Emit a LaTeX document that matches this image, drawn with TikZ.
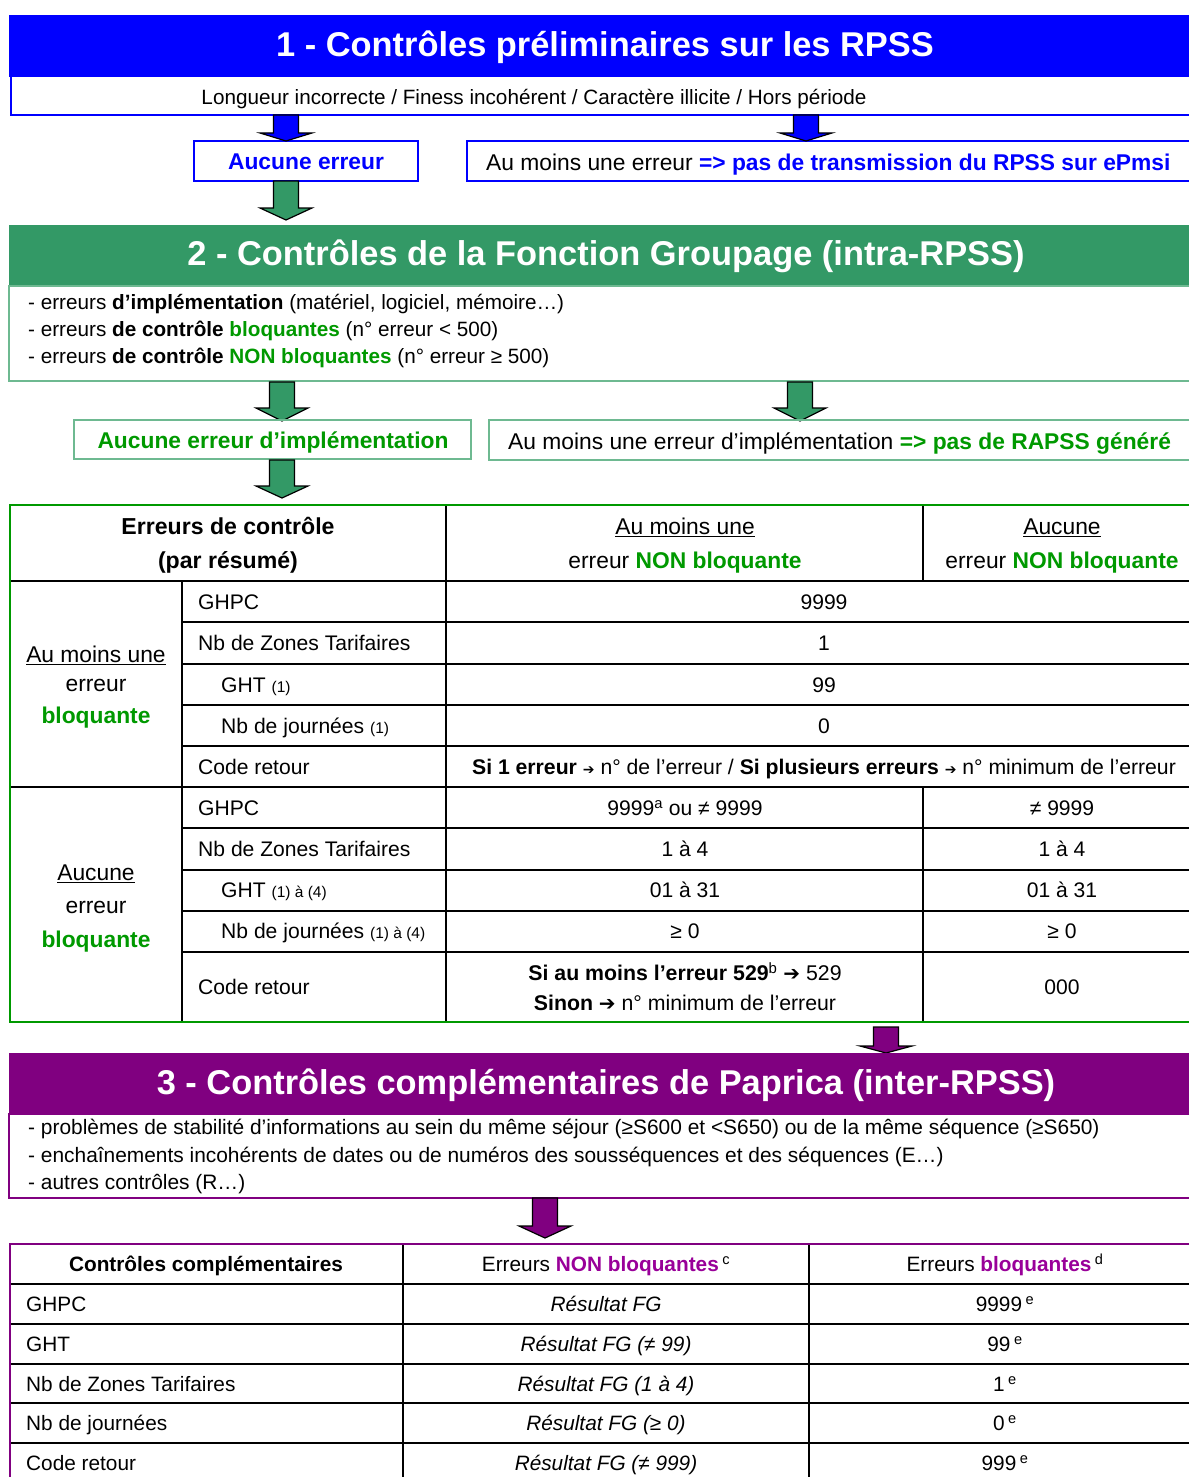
\documentclass[tikz,border=0pt]{standalone}
\usepackage{fontspec}
\setmainfont{Liberation Sans}
\newfontfamily\dejavu{DejaVu Sans}
\definecolor{bl}{RGB}{0,0,255}
\definecolor{hg}{RGB}{51,153,102}
\definecolor{lg}{RGB}{110,185,145}
\definecolor{tg}{RGB}{0,153,0}
\definecolor{pu}{RGB}{128,0,128}
\definecolor{tp}{RGB}{153,0,153}
\newcommand\fs[1]{\fontsize{#1}{24}\selectfont}
\newcommand\arr[1]{{\dejavu\fs{#1}\char"2794}}
\newcommand\blockarr[5]{% cx, top, headstart, tip, colour
  \draw[arrowline, fill=#5] ({#1-12.5},#2) -- ({#1+12.5},#2) -- ({#1+12.5},#3) -- ({#1+26},#3) -- (#1,#4) -- ({#1-26},#3) -- ({#1-12.5},#3) -- cycle;}
\tikzset{
  ttl/.style={text=white, font=\fs{34.4}\bfseries, anchor=mid, inner sep=0, yshift=-9pt},
  txt/.style={font=\fs{20.7}, anchor=mid west, inner sep=0, yshift=-5pt},
  ctxt/.style={font=\fs{20.7}, anchor=mid, inner sep=0, yshift=-5pt},
  bigtxt/.style={font=\fs{22.8}, anchor=mid, inner sep=0, yshift=-5pt},
  bigw/.style={font=\fs{22.8}, anchor=mid west, inner sep=0, yshift=-5pt},
  rowtxt/.style={font=\fs{21.1}, anchor=mid west, inner sep=0, yshift=-5pt},
  rowc/.style={font=\fs{21.1}, anchor=mid, inner sep=0, yshift=-5pt},
  t2/.style={font=\fs{20.8}, anchor=mid west, inner sep=0, yshift=-5pt},
  t2c/.style={font=\fs{20.8}, anchor=mid, inner sep=0, yshift=-5pt},
  tline/.style={line width=2.6pt, black},
  t2line/.style={line width=2pt, black},
  arrowline/.style={draw=black, line width=1.2pt, line join=miter},
}
\begin{document}
\begin{tikzpicture}[x=1pt,y=-1pt]
\useasboundingbox (0,0) rectangle (1189,1477);
\fill[white] (0,0) rectangle (1189,1477);

% ---------- Section 1 ----------
\fill[bl] (9,15) rectangle (1189,77);
\node[ttl] (t1) at (605,45) {1 - Contrôles préliminaires sur les RPSS};
\draw[bl, line width=1.5pt] (11,77) -- (11,115) -- (1189,115);
\node[ctxt] (s1) at (534,97) {Longueur incorrecte / Finess incohérent / Caractère illicite / Hors période};
\draw[bl, line width=1.5pt] (194,141) rectangle (418,181);
\node[bigtxt, text=bl, font=\fs{22.8}\bfseries] (ok1) at (306,162) {Aucune erreur};
\draw[bl, line width=1.5pt] (1189,141) -- (467,141) -- (467,181) -- (1189,181);
\node[bigw] (ko1) at (486,163) {Au moins une erreur \textcolor{bl}{\bfseries => pas de transmission du RPSS sur ePmsi}};
\blockarr{286}{115}{133}{141}{bl}
\blockarr{806}{115}{133}{141}{bl}
\blockarr{286}{181}{208}{220}{hg}

% ---------- Section 2 ----------
\fill[hg] (9,225) rectangle (1189,286);
\node[ttl] (t2) at (606,254) {2 - Contrôles de la Fonction Groupage (intra-RPSS)};
\draw[lg, line width=1.5pt] (1189,286) -- (9,286) -- (9,381) -- (1189,381);
\node[txt] (l21) at (28,302) {- erreurs \textbf{d’implémentation} (matériel, logiciel, mémoire…)};
\node[txt] (l22) at (28,329) {- erreurs \textbf{de contrôle} \textcolor{tg}{\textbf{bloquantes}} (n° erreur < 500)};
\node[txt] (l23) at (28,356) {- erreurs \textbf{de contrôle} \textcolor{tg}{\textbf{NON bloquantes}} (n° erreur ≥ 500)};
\blockarr{282}{382}{408}{421}{hg}
\blockarr{800}{382}{408}{421}{hg}
\draw[lg, line width=1.5pt] (74,420) rectangle (471,459);
\node[bigtxt, text=tg, font=\fs{22.8}\bfseries] (ok2) at (273,441) {Aucune erreur d’implémentation};
\draw[lg, line width=1.5pt] (1189,420) -- (489,420) -- (489,460) -- (1189,460);
\node[bigw] (ko2) at (508,442) {Au moins une erreur d’implémentation \textcolor{tg}{\bfseries => pas de RAPSS généré}};
\blockarr{282}{460}{486}{498}{hg}

% ---------- Table 1 ----------
\foreach \yy in {622,664,705,746,828,870,911,952} \draw[tline] (182,\yy) -- (1189,\yy);
\draw[tline] (10,581) -- (1189,581);
\draw[tline] (10,787) -- (1189,787);
\draw[tline] (182,581) -- (182,1022);
\draw[tline] (446,505) -- (446,1022);
\draw[tline] (923,505) -- (923,581);
\draw[tline] (923,787) -- (923,1022);
\draw[tg, line width=2.6pt] (1189,505) -- (10,505) -- (10,1022) -- (1189,1022);

\node[bigtxt, font=\fs{23.1}\bfseries] (h11) at (228,527) {Erreurs de contrôle};
\node[bigtxt, font=\fs{23.1}\bfseries] (h12) at (228,561) {(par résumé)};
\node[bigtxt] (h21) at (685,527) {\underline{Au moins une}};
\node[bigtxt] (h22) at (685,561) {erreur \textcolor{tg}{\textbf{NON bloquante}}};
\node[bigtxt] (h31) at (1062,527) {\underline{Aucune}};
\node[bigtxt] (h32) at (1062,561) {erreur \textcolor{tg}{\textbf{NON bloquante}}};

\node[bigtxt] (g11) at (96,655) {\underline{Au moins une}};
\node[bigtxt] (g12) at (96,684) {erreur};
\node[bigtxt, text=tg, font=\fs{22.8}\bfseries] (g13) at (96,716) {bloquante};
\node[bigtxt] (g21) at (96,873) {\underline{Aucune}};
\node[bigtxt] (g22) at (96,906) {erreur};
\node[bigtxt, text=tg, font=\fs{22.8}\bfseries] (g23) at (96,940) {bloquante};

\node[rowtxt] (f1) at (198,602) {GHPC};
\node[rowtxt] (f2) at (198,643) {Nb de Zones Tarifaires};
\node[rowtxt] (f3) at (221,685) {GHT {\fs{15.5}(1)}};
\node[rowtxt] (f4) at (221,726) {Nb de journées {\fs{15.5}(1)}};
\node[rowtxt] (f5) at (198,767) {Code retour};
\node[rowtxt] (f6) at (198,808) {GHPC};
\node[rowtxt] (f7) at (198,849) {Nb de Zones Tarifaires};
\node[rowtxt] (f8) at (221,890) {GHT {\fs{15.5}(1) à (4)}};
\node[rowtxt] (f9) at (221,931) {Nb de journées {\fs{15.5}(1) à (4)}};
\node[rowtxt] (f10) at (198,987) {Code retour};

\node[rowc] (v1) at (824,602) {9999};
\node[rowc] (v2) at (824,643) {1};
\node[rowc] (v3) at (824,685) {99};
\node[rowc] (v4) at (824,726) {0};
\node[rowc, font=\fs{21.2}] (v5) at (824,767) {\textbf{Si 1 erreur} \arr{14} n° de l’erreur / \textbf{Si plusieurs erreurs} \arr{14} n° minimum de l’erreur};

\node[rowc] (a1) at (685,808) {9999\textsuperscript{a} ou ≠ 9999};
\node[rowc] (a2) at (685,849) {1 à 4};
\node[rowc] (a3) at (685,890) {01 à 31};
\node[rowc] (a4) at (685,931) {≥ 0};
\node[rowc, font=\fs{21.3}] (a5) at (685,973) {\textbf{Si au moins l’erreur 529}\textsuperscript{b} \arr{20} 529};
\node[rowc, font=\fs{21.3}] (a6) at (685,1003) {\textbf{Sinon} \arr{20} n° minimum de l’erreur};
\node[rowc] (b1) at (1062,808) {≠ 9999};
\node[rowc] (b2) at (1062,849) {1 à 4};
\node[rowc] (b3) at (1062,890) {01 à 31};
\node[rowc] (b4) at (1062,931) {≥ 0};
\node[rowc] (b5) at (1062,987) {000};

% ---------- Section 3 ----------
\blockarr{886}{1027}{1046}{1053}{pu}
\fill[pu] (9,1053) rectangle (1189,1114);
\node[ttl] (t3) at (606,1083) {3 - Contrôles complémentaires de Paprica (inter-RPSS)};
\draw[pu, line width=1.5pt] (1189,1114) -- (9,1114) -- (9,1198) -- (1189,1198);
\node[txt, font=\fs{20.9}] (l31) at (28,1127) {- problèmes de stabilité d’informations au sein du même séjour (≥S600 et <S650) ou de la même séquence (≥S650)};
\node[txt, font=\fs{20.9}] (l32) at (28,1155) {- enchaînements incohérents de dates ou de numéros des sousséquences et des séquences (E…)};
\node[txt, font=\fs{20.9}] (l33) at (28,1182) {- autres contrôles (R…)};
\blockarr{545}{1198}{1226}{1238}{pu}

% ---------- Table 2 ----------
\foreach \yy in {1284,1324,1364,1403,1443} \draw[t2line] (10,\yy) -- (1189,\yy);
\draw[t2line] (403,1244) -- (403,1477);
\draw[t2line] (809,1244) -- (809,1477);
\draw[pu, line width=2pt] (1189,1244) -- (10,1244) -- (10,1477);

\node[t2c, font=\fs{20.8}\bfseries] (c1) at (206,1264) {Contrôles complémentaires};
\node[t2c] (c2) at (606,1264) {Erreurs \textcolor{tp}{\textbf{NON bloquantes}}\,\textsuperscript{c}};
\node[t2c] (c3) at (1005,1264) {Erreurs \textcolor{tp}{\textbf{bloquantes}}\,\textsuperscript{d}};
\node[t2] (r1) at (26,1304) {GHPC};
\node[t2] (r2) at (26,1344) {GHT};
\node[t2] (r3) at (26,1384) {Nb de Zones Tarifaires};
\node[t2] (r4) at (26,1423) {Nb de journées};
\node[t2] (r5) at (26,1463) {Code retour};
\node[t2c, font=\fs{20.8}\itshape] (n1) at (606,1304) {Résultat FG};
\node[t2c, font=\fs{20.8}\itshape] (n2) at (606,1344) {Résultat FG (≠ 99)};
\node[t2c, font=\fs{20.8}\itshape] (n3) at (606,1384) {Résultat FG (1 à 4)};
\node[t2c, font=\fs{20.8}\itshape] (n4) at (606,1423) {Résultat FG (≥ 0)};
\node[t2c, font=\fs{20.8}\itshape] (n5) at (606,1463) {Résultat FG (≠ 999)};
\node[t2c] (e1) at (1005,1304) {9999\,\textsuperscript{e}};
\node[t2c] (e2) at (1005,1344) {99\,\textsuperscript{e}};
\node[t2c] (e3) at (1005,1384) {1\,\textsuperscript{e}};
\node[t2c] (e4) at (1005,1423) {0\,\textsuperscript{e}};
\node[t2c] (e5) at (1005,1463) {999\,\textsuperscript{e}};
\end{tikzpicture}
\end{document}
